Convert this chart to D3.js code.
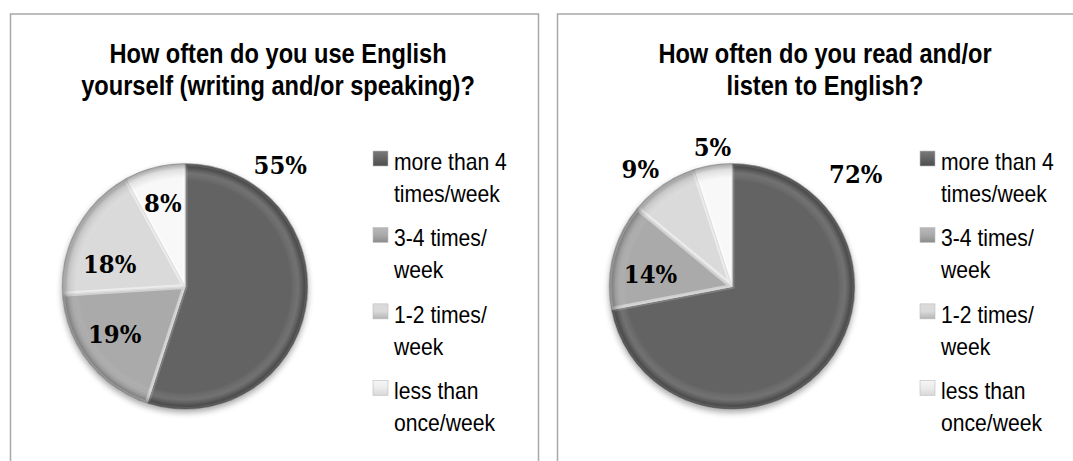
<!DOCTYPE html>
<html>
<head>
<meta charset="utf-8">
<script src="https://cdn.jsdelivr.net/npm/d3@7/dist/d3.min.js"></script>
<style>
  html, body { margin: 0; padding: 0; background: #ffffff; }
  svg { display: block; }
</style>
</head>
<body>
<svg id="chart" width="1073" height="461"></svg>
<script>
// ---------- DATA ----------
const categories = ["more than 4 times/week", "3-4 times/ week", "1-2 times/ week", "less than once/week"];
const legendLines = [["more than 4", "times/week"], ["3-4 times/", "week"], ["1-2 times/", "week"], ["less than", "once/week"]];
const useValues = [55, 19, 18, 8];
const readValues = [72, 14, 9, 5];
const useTitle = ["How often do you use English", "yourself (writing and/or speaking)?"];
const readTitle = ["How often do you read and/or", "listen to English?"];
const useLabels = ["55%", "19%", "18%", "8%"];
const readLabels = ["72%", "14%", "9%", "5%"];

// ---------- STYLE / LAYOUT ----------
const sliceColors = ["#636363", "#aaaaaa", "#dadada", "#f8f8f8"];
const swatchTop = ["#7a7a7a", "#b8b8b8", "#dadada", "#f6f6f6"];
const swatchBottom = ["#4e4e4e", "#8c8c8c", "#b4b4b4", "#d8d8d8"];
// label placement: angle (deg, clockwise from 12 o'clock) and radius factor
const useLabelPlace = [[38.3, 1.25], [236, 0.69], [286.7, 0.64], [345.1, 0.70]];
const readLabelPlace = [[47.7, 1.36], [278.3, 0.67], [322, 1.21], [352, 1.145]];

const panels = [
  { x: 10, width: 528, values: useValues, title: useTitle, labels: useLabels, place: useLabelPlace },
  { x: 557, width: 540, values: readValues, title: readTitle, labels: readLabels, place: readLabelPlace }
];

const svg = d3.select("#chart");
const defs = svg.append("defs");

const shadow = defs.append("filter").attr("id", "shadow")
  .attr("x", "-20%").attr("y", "-20%").attr("width", "140%").attr("height", "140%");
shadow.append("feGaussianBlur").attr("in", "SourceAlpha").attr("stdDeviation", 3);
shadow.append("feOffset").attr("dx", 0).attr("dy", 3).attr("result", "b");
shadow.append("feComponentTransfer").append("feFuncA").attr("type", "linear").attr("slope", 0.35);

const rim = defs.append("radialGradient").attr("id", "rim");
[[0, 0], [0.88, 0], [0.95, 0.10], [0.985, 0.28], [1, 0.38]].forEach(([o, a]) =>
  rim.append("stop").attr("offset", o).attr("stop-color", "#000").attr("stop-opacity", a));

const hl = defs.append("radialGradient").attr("id", "hl");
[[0, 0], [0.86, 0], [0.92, 0.14], [0.96, 0]].forEach(([o, a]) =>
  hl.append("stop").attr("offset", o).attr("stop-color", "#fff").attr("stop-opacity", a));

sliceColors.forEach((c, i) => {
  const g = defs.append("linearGradient").attr("id", "sw" + i)
    .attr("x1", 0).attr("y1", 0).attr("x2", 0).attr("y2", 1);
  g.append("stop").attr("offset", 0).attr("stop-color", swatchTop[i]);
  g.append("stop").attr("offset", 0.5).attr("stop-color", i === 3 ? "#ececec" : c);
  g.append("stop").attr("offset", 1).attr("stop-color", swatchBottom[i]);
});

const color = d3.scaleOrdinal().domain(categories).range(sliceColors);
const R = 123;

panels.forEach((p, pi) => {
  const g = svg.append("g").attr("transform", `translate(${p.x},0)`);

  // panel frame
  g.append("rect").attr("x", 0.5).attr("y", 14).attr("width", p.width).attr("height", 470)
    .attr("fill", "#fff").attr("stroke", "#a8a8a8").attr("stroke-width", 1.5);

  // title (condensed like the original)
  g.append("text").attr("transform", "translate(268,0) scale(0.875,1)")
    .attr("text-anchor", "middle")
    .style("font-family", "'Liberation Sans', Arial, sans-serif")
    .style("font-weight", "bold").style("font-size", "27px").attr("fill", "#000")
    .selectAll("tspan").data(p.title).join("tspan")
    .attr("x", 0).attr("y", (d, i) => 63.5 + i * 32).text(d => d);

  // pie
  const cx = 175, cy = 286.5;
  const pg = g.append("g").attr("transform", `translate(${cx},${cy})`);
  const pie = d3.pie().sort(null).value(d => d.v);
  const arcs = pie(p.values.map((v, i) => ({ v, c: categories[i], i })));
  const arc = d3.arc().innerRadius(0).outerRadius(R);

  pg.append("circle").attr("r", R).attr("fill", "#777").attr("filter", "url(#shadow)");

  pg.selectAll("path.slice").data(arcs).join("path").attr("class", "slice")
    .attr("d", arc).attr("fill", d => color(d.data.c))
    .attr("stroke", "#c8c8c8").attr("stroke-width", 1);

  // soft bevel highlights along the radial edges
  const clipId = "clip" + pi;
  arcs.forEach((d, i) => {
    defs.append("clipPath").attr("id", clipId + "_" + i).append("path").attr("d", arc(d));
    pg.append("path").attr("d", arc(d)).attr("fill", "none")
      .attr("stroke", "#ffffff").attr("stroke-opacity", i === 0 ? 0.18 : 0.45)
      .attr("stroke-width", 5).attr("clip-path", `url(#${clipId}_${i})`);
  });

  pg.append("circle").attr("r", R).attr("fill", "url(#hl)");
  pg.append("circle").attr("r", R).attr("fill", "url(#rim)");

  // data labels
  const labelArc = d3.arc();
  pg.selectAll("text.lbl").data(arcs).join("text").attr("class", "lbl")
    .attr("transform", (d, i) => {
      const [a, k] = p.place[i];
      const ang = a * Math.PI / 180;
      const c = labelArc.innerRadius(k * R).outerRadius(k * R).centroid({ startAngle: ang, endAngle: ang });
      return `translate(${c[0]},${c[1]}) scale(0.95,1)`;
    })
    .attr("text-anchor", "middle").attr("dy", "0.36em")
    .style("font-family", "'DejaVu Serif', serif").style("font-weight", "bold")
    .style("font-size", "24px").attr("fill", "#000")
    .text((d, i) => p.labels[i]);

  // legend
  const ly = d3.scalePoint().domain(categories).range([170, 399.3]);
  const lg = g.selectAll("g.leg").data(categories).join("g").attr("class", "leg")
    .attr("transform", d => `translate(363,${ly(d)})`);
  lg.append("rect").attr("x", 0).attr("y", -19).attr("width", 15).attr("height", 15)
    .attr("fill", (d, i) => `url(#sw${i})`).attr("stroke", "#bdbdbd").attr("stroke-width", 0.6);
  lg.append("text").attr("transform", "translate(21,0) scale(0.92,1)")
    .style("font-family", "'Liberation Sans', Arial, sans-serif").style("font-size", "23px")
    .attr("fill", "#000")
    .selectAll("tspan").data((d, i) => legendLines[i]).join("tspan")
    .attr("x", 0).attr("y", (d, j) => j * 32).text(d => d);
});
</script>
</body>
</html>
